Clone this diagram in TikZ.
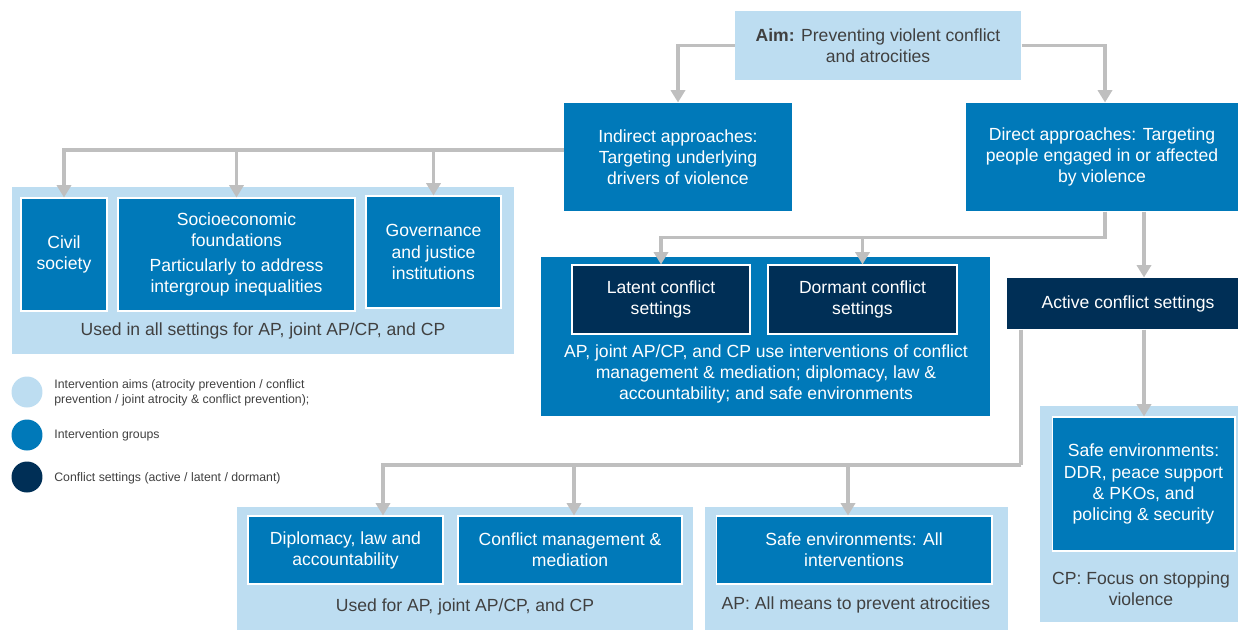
\documentclass[tikz,border=0pt]{standalone}
\usepackage{fontspec}
\setmainfont{Liberation Sans}
\usetikzlibrary{arrows.meta}
\tikzset{>={Triangle[width=8pt,length=7pt]}}
\usepackage[svgnames]{xcolor}
\definecolor{aimblue}{HTML}{BDDDF1}
\definecolor{grpblue}{HTML}{0079B9}
\definecolor{setnavy}{HTML}{002F56}
\definecolor{linegray}{HTML}{BFBFBF}
\definecolor{captext}{HTML}{404040}
\tikzset{
  panel/.style={fill=aimblue, inner sep=0pt},
  grp/.style={fill=grpblue, draw=white, line width=0.6pt, text=white, align=center,
    inner sep=0pt, font=\fontsize{10}{12}\selectfont},
  setting/.style={grp, fill=setnavy},
  captxt/.style={text=captext, align=center, font=\fontsize{10}{12}\selectfont},
  legtext/.style={text=captext, anchor=west, align=left, inner sep=0pt,
    font=\fontsize{7}{8.6}\selectfont},
  conn/.style={draw=linegray, line width=2.2pt},
  arr/.style={conn, ->},
}

\begin{document}
\begin{tikzpicture}[x=0.02cm, y=-0.02cm]
  \useasboundingbox (0,0) rectangle (1238,630);

  % panels
  \node[panel, minimum width=10.04cm, minimum height=3.34cm] (leftpanel) at (263,270.5) {};
  \node[panel, fill=grpblue, minimum width=8.98cm, minimum height=3.18cm] (midpanel) at (765.5,336.5) {};
  \node[panel, minimum width=3.96cm, minimum height=4.32cm] (rightpanel) at (1139,514) {};
  \node[panel, minimum width=9.12cm, minimum height=2.46cm] (blpanel) at (465,568.5) {};
  \node[panel, minimum width=6.06cm, minimum height=2.46cm] (bmpanel) at (856.5,568.5) {};

  % top level
  \node[grp, fill=aimblue, draw=none, text=captext, minimum width=5.72cm, minimum height=1.38cm] (aim) at (878,45.5)
    {\textbf{Aim:} Preventing violent conflict\\and atrocities};
  \node[grp, draw=none, minimum width=4.56cm, minimum height=2.16cm] (indirect) at (678,157)
    {Indirect approaches:\\Targeting underlying\\drivers of violence};
  \node[grp, draw=none, minimum width=5.44cm, minimum height=2.16cm] (direct) at (1102,157)
    {Direct approaches: Targeting\\people engaged in or affected\\by violence};

  % indirect groups
  \node[grp, minimum width=1.72cm, minimum height=2.26cm] (civil) at (64,254.5) {Civil\\society};
  \node[grp, minimum width=4.74cm, minimum height=2.26cm] (socio) at (236.5,254.5)
    {Socioeconomic\\foundations\\[2pt]Particularly to address\\intergroup inequalities};
  \node[grp, minimum width=2.70cm, minimum height=2.24cm] (gov) at (433.5,252)
    {Governance\\and justice\\institutions};
  \node[captxt] (leftcap) at (263,331) {Used in all settings for AP, joint AP/CP, and CP};

  % settings
  \node[setting, minimum width=3.56cm, minimum height=1.38cm] (latent) at (661,299.5) {Latent conflict\\settings};
  \node[setting, minimum width=3.78cm, minimum height=1.38cm] (dormant) at (862.5,299.5) {Dormant conflict\\settings};
  \node[captxt, text=white] (midcap) at (766,374)
    {AP, joint AP/CP, and CP use interventions of conflict\\management \& mediation; diplomacy, law \&\\accountability; and safe environments};
  \node[setting, draw=none, minimum width=4.84cm, minimum height=1.02cm] (active) at (1128,303.5) {Active conflict settings};

  % direct groups
  \node[grp, minimum width=3.66cm, minimum height=2.68cm] (safecp) at (1143.5,484)
    {Safe environments:\\DDR, peace support\\\& PKOs, and\\policing \& security};
  \node[captxt] (rightcap) at (1141,589) {CP: Focus on stopping\\violence};
  \node[grp, minimum width=3.90cm, minimum height=1.36cm] (dipl) at (345.5,550) {Diplomacy, law and\\accountability};
  \node[grp, minimum width=4.48cm, minimum height=1.36cm] (confmgmt) at (570,550) {Conflict management \&\\mediation};
  \node[grp, minimum width=5.52cm, minimum height=1.36cm] (safeap) at (854,550) {Safe environments: All\\interventions};
  \node[captxt] (blcap) at (465,607) {Used for AP, joint AP/CP, and CP};
  \node[captxt] (bmcap) at (856,605) {AP: All means to prevent atrocities};

  % legend
  \fill[aimblue] (27,392) circle (0.31cm);
  \fill[grpblue] (27,435) circle (0.31cm);
  \fill[setnavy] (27,477) circle (0.31cm);
  \node[legtext] (legaim) at (54,393) {Intervention aims (atrocity prevention / conflict\\prevention / joint atrocity \& conflict prevention);};
  \node[legtext] (leggrp) at (54,435) {Intervention groups};
  \node[legtext] (legset) at (54,478) {Conflict settings (active / latent / dormant)};

  % connectors
  \coordinate (lbus) at (564,150);
  \coordinate (ax) at (1144,0);
  \coordinate (bx) at (1021,0);
  \coordinate (bbus) at (1021,465);

  \draw[arr] (aim.west) -| (indirect.north);
  \draw[arr] (aim.east) -| ([xshift=0.06cm]direct.north);

  \draw[arr] (lbus) -| (civil.north);
  \draw[arr] (lbus) -| (socio.north);
  \draw[arr] (lbus) -| (gov.north);

  \draw[arr] ([xshift=0.06cm]direct.south) -- ++(0,26) -| (latent.north);
  \draw[arr] ([xshift=0.06cm]direct.south) -- ++(0,26) -| (dormant.north);
  \draw[arr] (direct.south -| ax) -- (active.north -| ax);
  \draw[arr] (active.south -| ax) -- (safecp.north -| ax);

  \draw[conn] (active.south -| bx) -- (bbus);
  \draw[arr] (bbus) -| ([xshift=0.75cm]dipl.north);
  \draw[arr] (bbus) -| ([xshift=0.08cm]confmgmt.north);
  \draw[arr] (bbus) -| ([xshift=-0.12cm]safeap.north);
\end{tikzpicture}
\end{document}
